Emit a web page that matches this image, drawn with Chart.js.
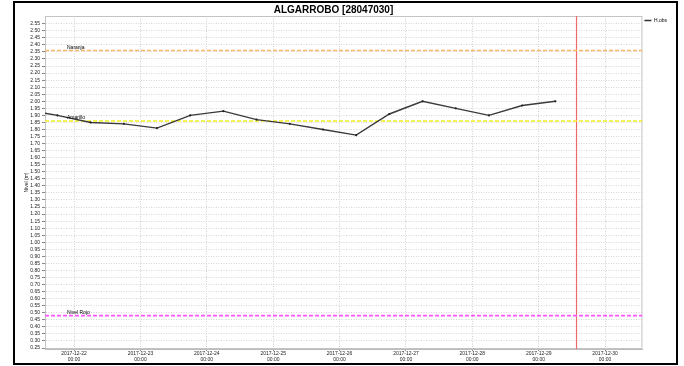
<!DOCTYPE html>
<html><head><meta charset="utf-8">
<script src="https://cdn.jsdelivr.net/npm/chart.js@4.4.0/dist/chart.umd.min.js"></script>
<style>
html,body{margin:0;padding:0;background:#fff;overflow:hidden;width:684px;height:366px;}
#wrap{position:absolute;left:0;top:0;width:684px;height:366px;overflow:hidden;}
#c{position:absolute;left:-10px;top:3px;}
#frame{position:absolute;left:13px;top:1px;width:665px;height:364px;box-sizing:border-box;border:2px solid #000;pointer-events:none;}
</style></head>
<body>
<div id="wrap"><canvas id="c" width="687" height="360"></canvas><div id="frame"></div></div>
<script>
// ---- data ----
const stationTitle = 'ALGARROBO [28047030]';
const seriesLabel = 'H.obs';
const yAxisTitle = 'Nivel (m)';
const obsTimes = [
  '2017-12-21 06:00','2017-12-21 18:00','2017-12-22 06:00','2017-12-22 18:00',
  '2017-12-23 06:00','2017-12-23 18:00','2017-12-24 06:00','2017-12-24 18:00',
  '2017-12-25 06:00','2017-12-25 18:00','2017-12-26 06:00','2017-12-26 18:00',
  '2017-12-27 06:00','2017-12-27 18:00','2017-12-28 06:00','2017-12-28 18:00',
  '2017-12-29 06:00'
];
const obsLevels = [1.94, 1.90, 1.85, 1.84, 1.81, 1.90, 1.93, 1.87, 1.84, 1.80, 1.76, 1.91, 2.00, 1.95, 1.90, 1.97, 2.00];
const thresholdNames = ['Naranja', 'Amarillo', 'Nivel Rojo'];
const thresholdValues = [2.36, 1.86, 0.48];
const nowTime = '2017-12-29 13:40';
const xRange = ['2017-12-21 13:30', '2017-12-30 13:30'];
const xTickDates = ['2017-12-22 00:00','2017-12-23 00:00','2017-12-24 00:00','2017-12-25 00:00','2017-12-26 00:00','2017-12-27 00:00','2017-12-28 00:00','2017-12-29 00:00','2017-12-30 00:00'];
const yRange = [0.243, 2.605];
const yTicks = [0.25,0.30,0.35,0.40,0.45,0.50,0.55,0.60,0.65,0.70,0.75,0.80,0.85,0.90,0.95,1.00,1.05,1.10,1.15,1.20,1.25,1.30,1.35,1.40,1.45,1.50,1.55,1.60,1.65,1.70,1.75,1.80,1.85,1.90,1.95,2.00,2.05,2.10,2.15,2.20,2.25,2.30,2.35,2.40,2.45,2.50,2.55];

// ---- styles ----
const thresholdColors = ['#f7b965', '#f2ee20', '#ff55ff'];
const FONT = 'Liberation Sans, Arial, sans-serif';

function toMs(s) {
  const [d, h] = s.split(' ');
  const [Y, M, D] = d.split('-').map(Number);
  const [hh, mm] = h.split(':').map(Number);
  return Date.UTC(Y, M - 1, D, hh, mm);
}
const xMin = toMs(xRange[0]), xMax = toMs(xRange[1]);
const nowMs = toMs(nowTime);

const datasets = [{
  label: seriesLabel,
  data: obsTimes.map((t, i) => ({x: toMs(t), y: obsLevels[i]})),
  borderColor: '#3a3a3a', backgroundColor: '#333', borderWidth: 1.4,
  pointRadius: 1.1, pointBorderWidth: 0, pointBackgroundColor: '#222', tension: 0
}];
thresholdNames.forEach((n, i) => {
  datasets.push({
    label: n,
    data: [{x: xMin, y: thresholdValues[i]}, {x: xMax, y: thresholdValues[i]}],
    borderColor: thresholdColors[i], borderDash: [4, 2], borderWidth: 1.6, pointRadius: 0
  });
});
datasets.push({
  label: 'now',
  data: [{x: nowMs, y: yRange[0]}, {x: nowMs, y: yRange[1]}],
  borderColor: '#ec6a6a', borderWidth: 1.2, pointRadius: 0
});

const decorPlugin = {
  id: 'decor',
  beforeDatasetsDraw(chart) {
    const {ctx, chartArea: a} = chart;
    ctx.save();
    ctx.strokeStyle = '#c4c4c4';
    ctx.lineWidth = 1;
    ctx.strokeRect(a.left + 0.5, a.top + 0.5, a.right - a.left - 1, a.bottom - a.top - 1);
    ctx.restore();
  },
  afterDatasetsDraw(chart) {
    const {ctx, chartArea: a, scales} = chart;
    ctx.save();
    ctx.font = '5px ' + FONT;
    ctx.fillStyle = '#000';
    ctx.textAlign = 'left';
    ctx.textBaseline = 'bottom';
    thresholdNames.forEach((n, i) => {
      const y = scales.y.getPixelForValue(thresholdValues[i]);
      ctx.fillText(n, a.left + 22, y - 0.5);
    });
    ctx.restore();
  },
  afterDraw(chart) {
    // chart title, centred where the reference has it
    const {ctx} = chart;
    ctx.save();
    ctx.font = 'bold 10px ' + FONT;
    ctx.fillStyle = '#000';
    ctx.textAlign = 'center';
    ctx.textBaseline = 'middle';
    ctx.fillText(stationTitle, chart.width / 2, 7);
    ctx.restore();
  }
};

new Chart(document.getElementById('c'), {
  type: 'line',
  data: {datasets},
  plugins: [decorPlugin],
  options: {
    responsive: false, animation: false, devicePixelRatio: 1, events: [],
    layout: {padding: {left: 25, right: 0, top: 13, bottom: 0}},
    plugins: {
      title: {display: false, text: stationTitle},
      legend: {position: 'right', align: 'start', fullSize: false,
        labels: {boxWidth: 7, boxHeight: 1.5,
          font: {family: FONT, size: 5}, color: '#000', padding: 2,
          generateLabels: chart => Chart.defaults.plugins.legend.labels.generateLabels(chart)
            .filter(it => it.datasetIndex === 0)
            .map(it => Object.assign(it, {lineWidth: 0, fillStyle: '#333'}))}},
      tooltip: {enabled: false}
    },
    scales: {
      x: {
        type: 'linear', min: xMin, max: xMax,
        afterBuildTicks: s => { s.ticks = xTickDates.map(t => ({value: toMs(t)})); },
        afterFit: s => { s.height = 14; },
        ticks: {autoSkip: false, maxRotation: 0, minRotation: 0, padding: 0, color: '#222',
          font: {family: FONT, size: 5, lineHeight: 1.1},
          callback: v => { const d = new Date(v).toISOString(); return [d.slice(0, 10), d.slice(11, 16)]; }},
        grid: {color: '#cfcfcf', lineWidth: 1, tickLength: 2, tickColor: '#888', tickBorderDash: []},
        border: {display: true, color: '#bbb', dash: [1, 1.5]}
      },
      y: {
        type: 'linear', min: yRange[0], max: yRange[1],
        afterBuildTicks: s => { s.ticks = yTicks.map(v => ({value: v})); },
        afterFit: s => { s.width = 30; },
        ticks: {autoSkip: false, padding: 2, color: '#222', font: {family: FONT, size: 5},
          callback: v => Number(v).toFixed(2)},
        grid: {color: '#d6d6d6', lineWidth: 1, tickLength: 3, tickColor: '#888', tickBorderDash: []},
        border: {display: true, color: '#bbb', dash: [1, 1.5]},
        title: {display: true, text: yAxisTitle, color: '#222', font: {family: FONT, size: 5},
          padding: {top: 9, bottom: 0}}
      }
    }
  }
});
</script>
</body></html>
